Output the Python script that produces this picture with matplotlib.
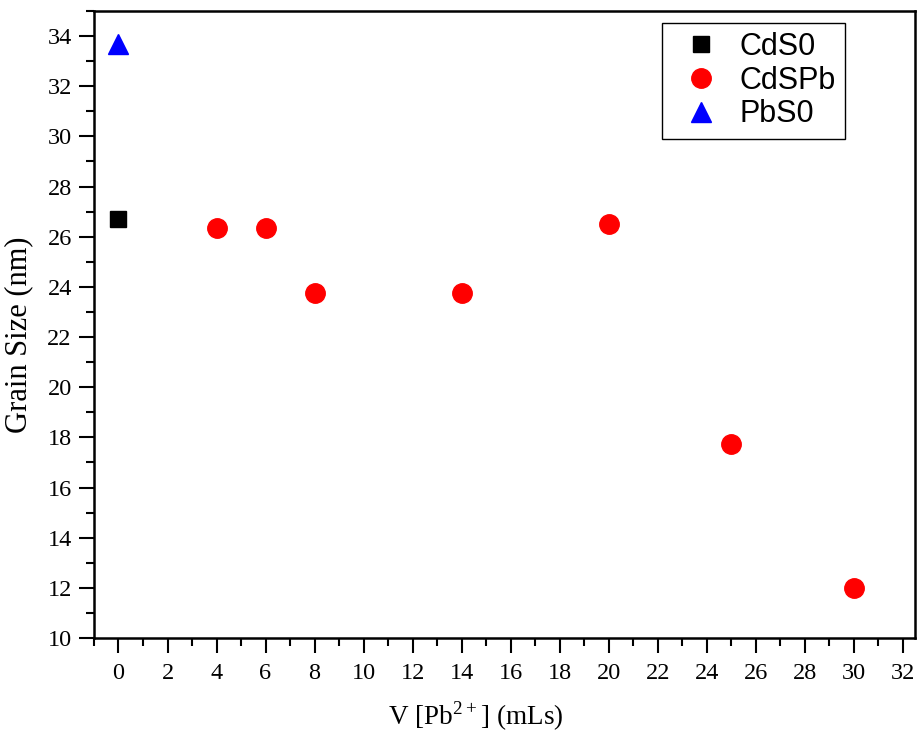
import matplotlib.pyplot as plt
from matplotlib.ticker import MultipleLocator

# data
cds0_x = [0]
cds0_y = [26.7]
cdspb_x = [4, 6, 8, 14, 20, 25, 30]
cdspb_y = [26.33, 26.33, 23.74, 23.74, 26.5, 17.75, 12.0]
pbs0_x = [0]
pbs0_y = [33.7]

plt.rcParams['font.family'] = 'Liberation Serif'
plt.rcParams['mathtext.fontset'] = 'custom'
plt.rcParams['mathtext.rm'] = 'Liberation Serif'

fig = plt.figure(figsize=(9.17, 7.33), dpi=100)
ax = fig.add_axes([0.1025, 0.1296, 0.8953, 0.8554])

ax.plot(cds0_x, cds0_y, 's', color='black', markersize=12, label='CdS0')
ax.plot(cdspb_x, cdspb_y, 'o', color='red', markersize=14, label='CdSPb')
ax.plot(pbs0_x, pbs0_y, '^', color='blue', markersize=15, label='PbS0')

ax.set_xlim(-1, 32.5)
ax.set_ylim(10, 35)
ax.xaxis.set_major_locator(MultipleLocator(2))
ax.xaxis.set_minor_locator(MultipleLocator(1))
ax.yaxis.set_major_locator(MultipleLocator(2))
ax.yaxis.set_minor_locator(MultipleLocator(1))
ax.tick_params(which='major', direction='out', length=11, width=1.5, labelsize=17.5)
ax.tick_params(axis='x', which='major', pad=7)
ax.tick_params(axis='y', which='major', pad=5)
ax.tick_params(which='minor', direction='out', length=6, width=1.5)
for s in ax.spines.values():
    s.set_linewidth(1.8)

ax.set_xlabel(r'V [Pb$^{2+}$] (mLs)', fontsize=19.5, va='baseline')
ax.xaxis.set_label_coords(0.465, -0.139)
ax.set_ylabel('Grain Size (nm)', fontsize=22)
ax.yaxis.set_label_coords(-0.074, 0.483)

leg = ax.legend(loc='upper right', bbox_to_anchor=(0.915, 0.981), borderaxespad=0,
                prop={'family': 'Liberation Sans', 'size': 22}, fancybox=False,
                framealpha=1, edgecolor='black', handletextpad=0.26,
                labelspacing=0.12, borderpad=0.3, handlelength=2.0)
leg.get_frame().set_linewidth(1.0)

fig.savefig('out.png', dpi=100)
